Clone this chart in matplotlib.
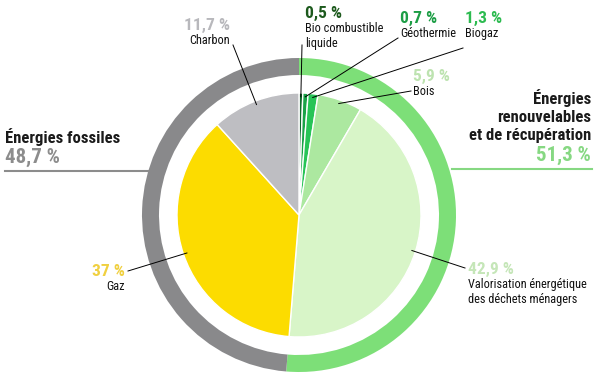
import matplotlib.pyplot as plt
import numpy as np

# parts du mix (sens horaire depuis midi)
noms = ["Bio combustible\nliquide", "Géothermie", "Biogaz", "Bois",
        "Valorisation énergétique\ndes déchets ménagers", "Gaz", "Charbon"]
parts = [0.5, 0.7, 1.3, 5.9, 42.9, 37, 11.7]
etiquettes = ["0,5 %", "0,7 %", "1,3 %", "5,9 %", "42,9 %", "37 %", "11,7 %"]
couleurs = ["#0f6a2b", "#19a347", "#27c456", "#ace8a0", "#d8f5c8", "#fcdc00", "#bebec2"]
couleurs_txt = ["#1d5a1d", "#1c9d45", "#2dbb50", "#bde3b0", "#c5e6b8", "#f0d040", "#b8b8bc"]

groupes = ["Énergies\nrenouvelables\net de récupération", "Énergies fossiles"]
parts_groupes = [51.3, 48.7]
etiq_groupes = ["51,3 %", "48,7 %"]
couleurs_groupes = ["#7ddf78", "#89898b"]
couleurs_txt_groupes = ["#86d882", "#8c8c8c"]

plt.rcParams['font.family'] = ['Roboto Condensed', 'Liberation Sans Narrow', 'Roboto', 'DejaVu Sans']

W, H = 600, 384
fig = plt.figure(figsize=(6, 3.84), dpi=100)
ax = fig.add_axes([0, 0, 1, 1])
ax.set_aspect('equal')

cx, cy = 299, H - 215
R = 122
R_anneau = 157

# anneau extérieur
ax.pie(parts_groupes, colors=couleurs_groupes, radius=R_anneau, center=(cx, cy),
       startangle=90, counterclock=False, frame=True,
       wedgeprops=dict(width=17, linewidth=0))
# camembert intérieur
wedges, _ = ax.pie(parts, colors=couleurs, radius=R, center=(cx, cy),
                   startangle=90, counterclock=False, frame=True,
                   wedgeprops=dict(linewidth=1, edgecolor='white'))
ax.set_xlim(0, W)
ax.set_ylim(0, H)
ax.axis('off')

# position des étiquettes (pixels depuis le haut), alignement, fin du trait
pos = [(305, 13, 'left', (302, 45)),
       (400, 18, 'left', (398, 38)),
       (465, 18, 'left', (463, 48)),
       (413, 76, 'left', (411, 91)),
       (468, 269, 'left', (465, 268)),
       (125, 271, 'right', (128, 271)),
       (230, 25, 'right', (233, 45))]

for w, nom, et, ct, (x, y, ha, bout) in zip(wedges, noms, etiquettes, couleurs_txt, pos):
    ax.text(x, H - y, et, ha=ha, va='center', fontsize=12.5, fontweight='bold', color=ct)
    ax.text(x, H - y - 9, nom, ha=ha, va='top', fontsize=8.8, color='#111111',
            linespacing=1.15)
    ang = np.deg2rad((w.theta1 + w.theta2) / 2)
    px, py = cx + 0.97 * R * np.cos(ang), cy + 0.97 * R * np.sin(ang)
    ax.plot([bout[0], px], [H - bout[1], py], color='black', lw=0.7)

# groupes
ax.text(5, H - 137, groupes[1], ha='left', va='center', fontsize=12, fontweight='bold', color='#1a1a1a')
ax.text(5, H - 157, etiq_groupes[1], ha='left', va='center', fontsize=15, fontweight='bold',
        color=couleurs_txt_groupes[1])
ax.plot([5, cx - R_anneau + 6], [H - 171, H - 171], color='#8c8c8c', lw=1.5)

ax.text(591, H - 116, groupes[0], ha='right', va='center', fontsize=12, fontweight='bold',
        color='#1a1a1a', linespacing=1.25, multialignment='right')
ax.text(591, H - 155, etiq_groupes[0], ha='right', va='center', fontsize=15, fontweight='bold',
        color=couleurs_txt_groupes[0])
ax.plot([cx + R_anneau - 4, 592], [H - 169, H - 169], color='#86d882', lw=1.5)

fig.savefig("out.png", dpi=100)
